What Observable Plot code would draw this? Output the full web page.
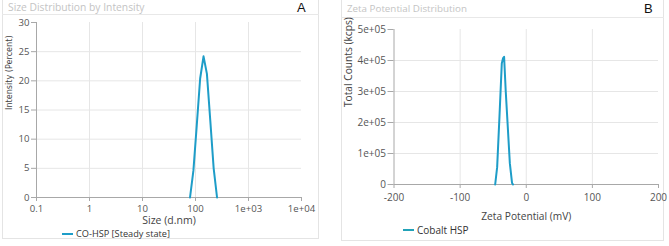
<!DOCTYPE html>
<html>
<head>
<meta charset="utf-8">
<script src="https://cdn.jsdelivr.net/npm/d3@7"></script>
<script src="https://cdn.jsdelivr.net/npm/@observablehq/plot@0.6"></script>
<style>
  html, body { margin: 0; padding: 0; background: #fff; }
  #root { position: relative; width: 669px; height: 246px; overflow: hidden; font-family: "Open Sans", sans-serif; }
  .panel { position: absolute; border: 1px solid #e4e4e4; box-sizing: border-box; }
  .sep { position: absolute; height: 1px; background: #e8e8e8; }
  .title { position: absolute; color: #c4c4c4; white-space: nowrap; line-height: 12px; }
  .letter { position: absolute; font-size: 13px; line-height: 14px; color: #111; font-family: "Liberation Sans", sans-serif; }
  .legend { position: absolute; color: #333; white-space: nowrap; display: flex; align-items: center; line-height: 12px; }
  .legend i { display: inline-block; width: 11px; height: 2px; margin-right: 3px; }
  .plot { position: absolute; top: 0; }
</style>
</head>
<body>
<div id="root">
  <div class="panel" style="left:2px;top:-1px;width:317px;height:240px;"></div>
  <div class="sep" style="left:2px;top:14px;width:317px;"></div>
  <div class="title" style="left:8px;top:1px;font-size:10.3px;">Size Distribution by Intensity</div>
  <div class="letter" style="left:297px;top:1px;">A</div>
  <div class="legend" style="left:62px;top:228px;font-size:9.2px;"><i style="background:#1e9dc8"></i>CO-HSP [Steady state]</div>

  <div class="panel" style="left:341px;top:-1px;width:323px;height:242px;"></div>
  <div class="sep" style="left:341px;top:17px;width:323px;"></div>
  <div class="title" style="left:347px;top:3px;font-size:9.8px;">Zeta Potential Distribution</div>
  <div class="letter" style="left:644px;top:2px;">B</div>
  <div class="legend" style="left:403px;top:224px;font-size:10px;"><i style="background:#22a2b8"></i>Cobalt HSP</div>

  <div id="plotA" class="plot" style="left:0px;"></div>
  <div id="plotB" class="plot" style="left:335px;"></div>
</div>
<script>
// Panel A: size distribution by intensity
const sizeNm = [78.82, 91.28, 105.7, 122.4, 141.8, 164.2, 190.1, 220.2, 255.0];
const intensityPct = [0, 4.6, 12.4, 20.4, 24.2, 21.2, 13.2, 5.0, 0];
const sizeTicks = [0.1, 1, 10, 100, 1000, 10000];
const sizeTickLabels = ["0.1", "1", "10", "100", "1e+03", "1e+04"];
const intensityTicks = [0, 5, 10, 15, 20, 25, 30];

// Panel B: zeta potential distribution
const zetaMv = [-47, -44, -40.5, -37, -35, -33.5, -31, -28, -24.8, -21.5, -20];
const totalCounts = [0, 56000, 219000, 390000, 408000, 412000, 300000, 188000, 68000, 5000, 0];
const zetaTicks = [-200, -100, 0, 100, 200];
const countTicks = [0, 100000, 200000, 300000, 400000, 500000];
const countTickLabels = ["0", "1e+05", "2e+05", "3e+05", "4e+05", "5e+05"];

const lineColor = "#1e9dc8";
const gridColor = "#e6e6e6";
const axisColor = "#a8a8a8";
const styleA = { fontFamily: "Open Sans, sans-serif", fontSize: "9.6px", color: "#444", background: "transparent", overflow: "visible" };
const styleB = { fontFamily: "Open Sans, sans-serif", fontSize: "10px", color: "#444", background: "transparent", overflow: "visible" };

const dataA = sizeNm.map((s, i) => ({ s, v: intensityPct[i] }));
const plotA = Plot.plot({
  width: 320, height: 246,
  marginLeft: 36, marginRight: 19, marginTop: 22, marginBottom: 49,
  style: styleA,
  x: { type: "log", domain: [0.1, 10000] },
  y: { domain: [0, 30] },
  marks: [
    Plot.gridX(sizeTicks.slice(1, -1), { stroke: gridColor, strokeOpacity: 1 }),
    Plot.gridY(intensityTicks.slice(1, -1), { stroke: gridColor, strokeOpacity: 1 }),
    Plot.ruleY([0], { stroke: axisColor }),
    Plot.ruleX([0.1], { stroke: axisColor }),
    Plot.axisX({ ticks: sizeTicks, tickFormat: d => sizeTickLabels[sizeTicks.indexOf(d)], tickSize: 4, tickPadding: 4, stroke: axisColor, label: null, fill: "#555" }),
    Plot.text(["Size (d.nm)"], { frameAnchor: "bottom", lineAnchor: "middle", dy: 23, fontSize: 10.5, fill: "#444" }),
    Plot.axisY({ ticks: intensityTicks, tickSize: 5, tickPadding: 2, stroke: axisColor, label: null, fill: "#555" }),
    Plot.text(["Intensity (Percent)"], { frameAnchor: "left", dx: -27, rotate: -90, fontSize: 9, fontFamily: "DejaVu Sans Condensed, Liberation Sans Narrow, sans-serif", fontStretch: "condensed", fill: "#444" }),
    Plot.line(dataA, { x: "s", y: "v", stroke: lineColor, strokeWidth: 2 })
  ]
});
document.getElementById("plotA").appendChild(plotA);

const dataB = zetaMv.map((z, i) => ({ z, c: totalCounts[i] }));
const plotB = Plot.plot({
  width: 334, height: 246,
  marginLeft: 58.5, marginRight: 11, marginTop: 29, marginBottom: 62,
  style: styleB,
  x: { domain: [-200, 200] },
  y: { domain: [0, 500000] },
  marks: [
    Plot.gridX(zetaTicks.slice(1, -1), { stroke: gridColor, strokeOpacity: 1 }),
    Plot.gridY(countTicks.slice(1, -1), { stroke: gridColor, strokeOpacity: 1 }),
    Plot.ruleY([0], { stroke: axisColor }),
    Plot.ruleX([-200], { stroke: axisColor }),
    Plot.axisX({ ticks: zetaTicks, tickFormat: d => String(d), tickSize: 4, tickPadding: 5, stroke: axisColor, label: null, fill: "#555" }),
    Plot.text(["Zeta Potential (mV)"], { frameAnchor: "bottom", lineAnchor: "middle", dy: 32, fontSize: 10.2, fill: "#444" }),
    Plot.axisY({ ticks: countTicks, tickFormat: d => countTickLabels[countTicks.indexOf(d)], tickSize: 6, tickPadding: 2, stroke: axisColor, label: null, fill: "#555" }),
    Plot.text(["Total Counts (kcps)"], { frameAnchor: "left", dx: -45, rotate: -90, fontSize: 10.2, fill: "#444" }),
    Plot.line(dataB, { x: "z", y: "c", stroke: lineColor, strokeWidth: 2 })
  ]
});
document.getElementById("plotB").appendChild(plotB);
</script>
</body>
</html>
